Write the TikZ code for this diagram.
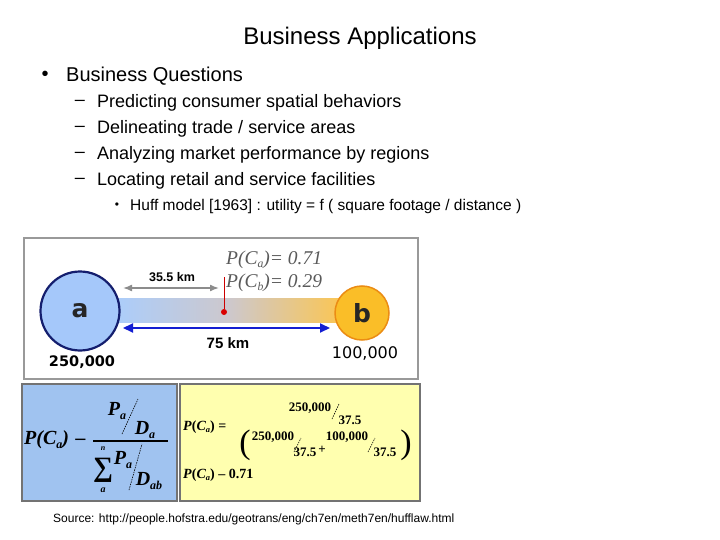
\documentclass[tikz,border=0pt]{standalone}
\usepackage{fontspec}
\setmainfont{Liberation Sans}
\newfontfamily\tms{Liberation Serif}
\newfontfamily\dvs{DejaVu Sans}
\usetikzlibrary{arrows.meta}
\newcommand{\fsz}[1]{\fontsize{#1}{#1}\selectfont}
\newcommand{\mysub}[1]{\raisebox{-0.35ex}{\scalebox{0.6}{#1}}}
\definecolor{cablue}{RGB}{165,200,250}
\definecolor{canavy}{RGB}{20,30,110}
\definecolor{cborange}{RGB}{250,190,40}
\definecolor{cbedge}{RGB}{235,140,20}
\definecolor{barleft}{RGB}{172,205,250}
\definecolor{barmid}{RGB}{205,200,205}
\definecolor{barright}{RGB}{250,198,85}
\definecolor{panelblue}{RGB}{160,195,240}
\definecolor{panelyellow}{RGB}{255,255,175}
\definecolor{arrowblue}{RGB}{20,30,210}
\definecolor{txtgray}{RGB}{90,90,90}
\begin{document}
\begin{tikzpicture}[x=1pt,y=-1pt,
  txt/.style={inner sep=0pt},
  lft/.style={inner sep=0pt,anchor=west},
  frm/.style={draw=black!55,line width=2.5pt},
  serb/.style={inner sep=0pt,font=\tms\bfseries\itshape\fsz{20}},
  sery/.style={inner sep=0pt,font=\tms\bfseries\fsz{13}},
  slash/.style={line width=0.6pt,dash pattern=on 1.5pt off 1pt},
  circlab/.style={circle,inner sep=0pt,font=\dvs\bfseries\fsz{25}}]
\useasboundingbox (0,0) rectangle (720,540);
\fill[white] (0,0) rectangle (720,540);

% --- title and bullets
\node[txt,font=\fsz{24}] (title) at (360,38) {Business Applications};
\node[txt,font=\fsz{20}] (bq) at (45,76) {•};
\node[lft,font=\fsz{20}] (q) at (66,76) {Business Questions};
\foreach \i/\yy/\t in {1/103/{Predicting consumer spatial behaviors},
                       2/129/{Delineating trade / service areas},
                       3/155/{Analyzing market performance by regions},
                       4/181/{Locating retail and service facilities}}{
  \node[txt,font=\fsz{18}] (d\i) at (80,\yy) {–};
  \node[lft,font=\fsz{18}] (t\i) at (97,\yy) {\t};
}
\node[txt,font=\fsz{12}] (hb) at (117,206) {•};
\node[lft,font=\fsz{15.5}] (huff) at (130,206) {Huff model [1963] : utility = f ( square footage / distance )};

% --- panel 1: map
\draw[draw=black!40,line width=1.5pt,fill=white] (24,238) rectangle (418,379);
\shade[left color=barleft,right color=barright,middle color=barmid] (117,298) rectangle (340,322);
\node[circlab,minimum size=79pt,draw=canavy,line width=2.2pt,fill=cablue,text=black!85] (ca) at (80,311) {a};
\node[circlab,minimum size=54pt,draw=cbedge,line width=1.5pt,fill=cborange,text=black!85] (cb) at (362,313) {b};
\coordinate (g1) at (123,288);
\coordinate (g2) at (219,288);
\draw[{Latex[length=9pt,width=7pt]}-{Latex[length=9pt,width=7pt]},black!45,line width=1.5pt] (g1) -- (g2);
\node[txt,font=\bfseries\fsz{12.5}] (l355) at (172,277) {35.5 km};
\coordinate (rt) at (224,277);
\node[circle,fill=red!85!black,minimum size=6pt,inner sep=0pt] (rd) at (224,312) {};
\draw[red!80!black,line width=1pt] (rt) -- (rd);
\coordinate (b1) at (123,328);
\coordinate (b2) at (330,328);
\draw[{Triangle[length=10pt,width=9pt]}-{Triangle[length=10pt,width=9pt]},arrowblue,line width=2pt] (b1) -- (b2);
\node[txt,font=\bfseries\fsz{15}] (l75) at (228,343) {75 km};
\node[txt,font=\dvs\bfseries\fsz{14.5}] (pa) at (82,362) {250,000};
\node[txt,font=\dvs\fsz{16}] (pb) at (365,353) {100,000};
\node[lft,font=\tms\itshape\fsz{19.5},text=txtgray] (pca) at (226,260) {P(C\mysub{a})= 0.71};
\node[lft,font=\tms\itshape\fsz{19.5},text=txtgray] (pcb) at (226,283) {P(C\mysub{b})= 0.29};

% --- panel 2: general formula
\draw[frm,fill=panelblue] (22,384) rectangle (177,501);
\node[lft,font=\tms\bfseries\itshape\fsz{20}] (f1) at (24,440) {P(C\mysub{a})\,\,–};
\node[serb] (n1) at (117,411) {P\mysub{a}};
\node[serb] (n2) at (145,430) {D\mysub{a}};
\draw[slash] (122,434) -- (138,399);
\draw[line width=1.2pt] (93,441) -- (168,441);
\node[txt,font=\tms\bfseries\fsz{28}] (sig) at (103,470) {∑};
\node[txt,font=\tms\bfseries\itshape\fsz{8}] (sn) at (103,449) {n};
\node[txt,font=\tms\bfseries\itshape\fsz{10}] (sa) at (103,490) {a};
\node[serb] (n3) at (123,460) {P\mysub{a}};
\node[serb] (n4) at (149,481) {D\mysub{ab}};
\draw[slash] (129,490) -- (142,444);

% --- panel 3: worked example
\draw[frm,fill=panelyellow] (180,384) rectangle (420,501);
\node[lft,font=\tms\bfseries\fsz{14}] (e1) at (183,427) {\textit{P}(\textit{C}\mysub{\textit{a}}) =};
\node[sery] (e2) at (310,408) {250,000};
\draw[slash] (332,419) -- (339,404);
\node[sery] (e3) at (350,420) {37.5};
\node[txt,font=\tms\fsz{34}] (lp) at (245,445) {(};
\node[sery] (e4) at (273,437) {250,000};
\draw[slash] (294,452) -- (301,438);
\node[sery] (e5) at (305,452) {37.5};
\node[sery] (plus) at (322,450) {+};
\node[sery] (e6) at (347,437) {100,000};
\draw[slash] (368,452) -- (375,438);
\node[sery] (e7) at (385,452) {37.5};
\node[txt,font=\tms\fsz{34}] (rp) at (406,445) {)};
\node[lft,font=\tms\bfseries\fsz{14}] (e8) at (183,475) {\textit{P}(\textit{C}\mysub{\textit{a}}) – 0.71};

% --- source
\node[lft,font=\fsz{12}] (src) at (53,519) {Source: http://people.hofstra.edu/geotrans/eng/ch7en/meth7en/hufflaw.html};
\end{tikzpicture}
\end{document}
